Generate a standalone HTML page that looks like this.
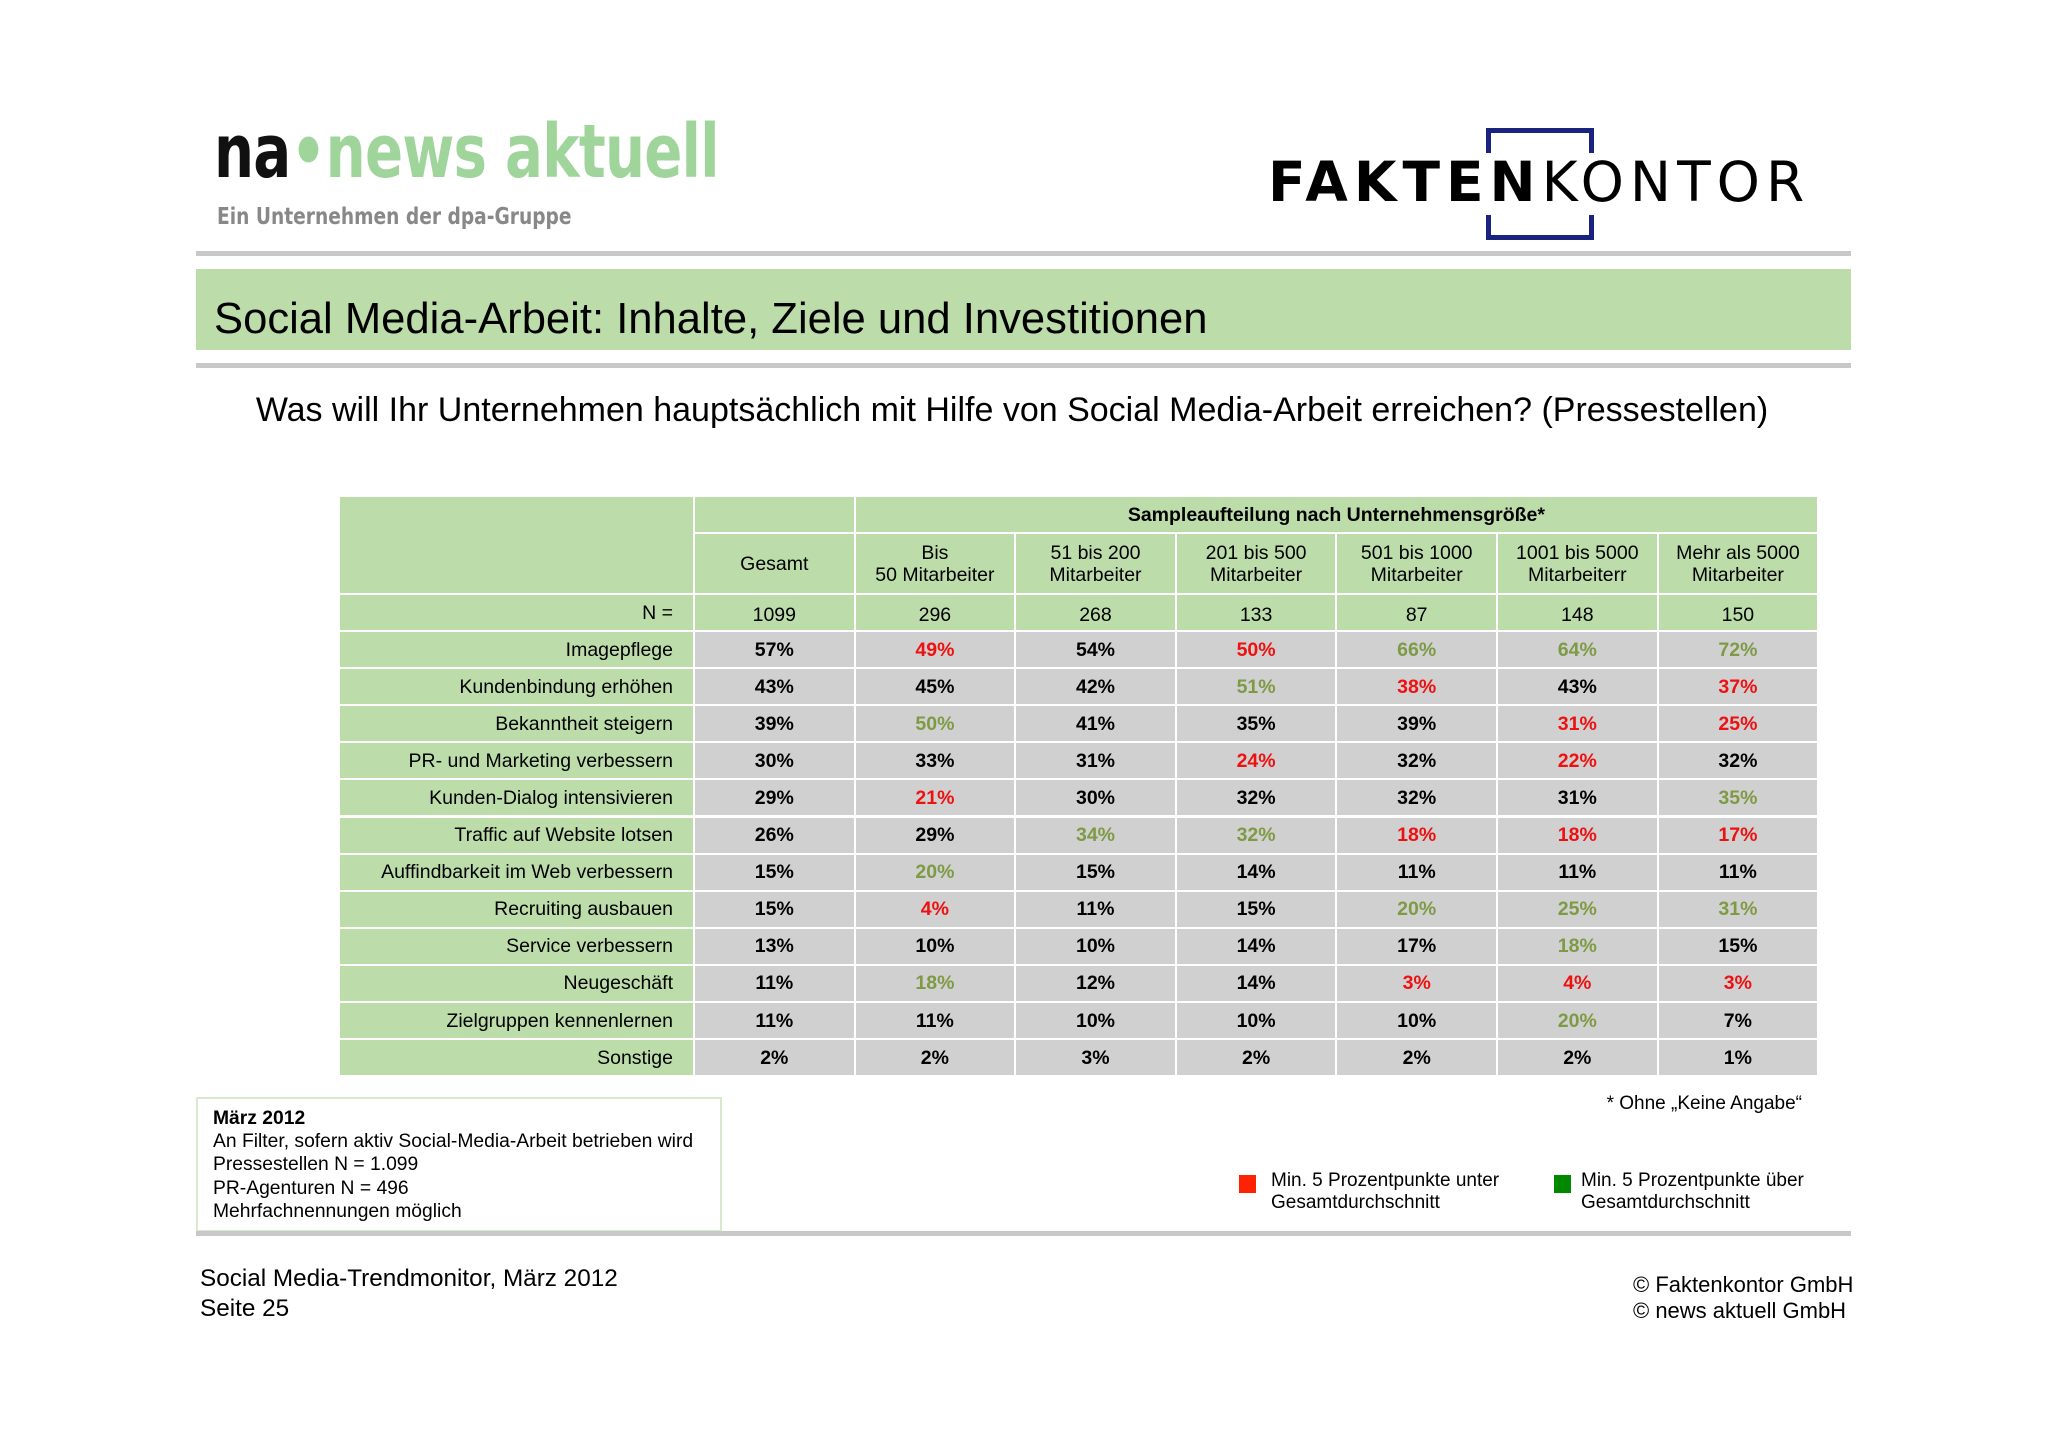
<!DOCTYPE html>
<html><head><meta charset="utf-8">
<style>
body{margin:0;width:2048px;height:1447px;background:#fff;position:relative;overflow:hidden;font-family:"Liberation Sans",Arial,sans-serif;color:#000}
.a{position:absolute;white-space:nowrap}
.cell{position:absolute;box-sizing:border-box;border-right:2px solid #fff;border-bottom:2px solid #fff;display:flex;align-items:center;justify-content:center;font-size:19.5px;text-align:center;line-height:22px}
</style></head><body>
<div class="a" style="left:214px;top:112px;font-family:'DejaVu Sans',sans-serif;font-weight:bold;font-size:74px;letter-spacing:-1px;line-height:80px;transform:scaleX(0.76);transform-origin:0 0"><span style="color:#111">na</span><span style="color:#9fd49a">•news aktuell</span></div>
<div class="a" style="left:217px;top:204px;font-family:'DejaVu Sans Condensed','DejaVu Sans',sans-serif;font-weight:bold;font-size:23px;color:#888;transform:scaleX(0.9);transform-origin:0 0">Ein Unternehmen der dpa-Gruppe</div>
<div class="a" style="left:1268px;top:152px;font-family:'DejaVu Sans',sans-serif;font-size:55px;line-height:60px;letter-spacing:6px"><b style="font-weight:900">FAKTEN</b><span style="font-weight:normal">KONTOR</span></div>
<div class="a" style="left:1486px;top:128px;width:98px;height:20px;border:5px solid #1a237e;border-bottom:none"></div>
<div class="a" style="left:1486px;top:215px;width:98px;height:20px;border:5px solid #1a237e;border-top:none"></div>
<div class="a" style="left:196px;top:251px;width:1655px;height:5px;background:#c8c8c8"></div>
<div class="a" style="left:196px;top:269px;width:1655px;height:81px;background:#bcdcaa"></div>
<div class="a" style="left:214px;top:294px;font-size:43.6px;line-height:50px">Social Media-Arbeit: Inhalte, Ziele und Investitionen</div>
<div class="a" style="left:196px;top:363px;width:1655px;height:5px;background:#c8c8c8"></div>
<div class="a" style="left:0;width:2024px;text-align:center;top:390px;font-size:34px;line-height:40px">Was will Ihr Unternehmen hauptsächlich mit Hilfe von Social Media-Arbeit erreichen? (Pressestellen)</div>
<div id="tbl"></div>
<div class="a" style="left:196px;top:1097px;width:526px;height:135px;border:2px solid #d7ead0;box-sizing:border-box"></div>
<div class="a" style="left:213px;top:1107px;font-size:19.3px;line-height:23.2px">
<b>März 2012</b><br>An Filter, sofern aktiv Social-Media-Arbeit betrieben wird<br>Pressestellen N = 1.099<br>PR-Agenturen N = 496<br>Mehrfachnennungen möglich</div>
<div class="a" style="right:246px;top:1093px;font-size:19px">* Ohne „Keine Angabe“</div>
<div class="a" style="left:1239px;top:1175px;width:17px;height:18px;background:#ff2200"></div>
<div class="a" style="left:1271px;top:1170px;font-size:19px;line-height:22px">Min. 5 Prozentpunkte unter<br>Gesamtdurchschnitt</div>
<div class="a" style="left:1554px;top:1175px;width:17px;height:18px;background:#008800"></div>
<div class="a" style="left:1581px;top:1170px;font-size:19px;line-height:22px">Min. 5 Prozentpunkte über<br>Gesamtdurchschnitt</div>
<div class="a" style="left:196px;top:1231px;width:1655px;height:5px;background:#c8c8c8"></div>
<div class="a" style="left:200px;top:1264px;font-size:24.3px;line-height:30px">Social Media-Trendmonitor, März 2012<br>Seite 25</div>
<div class="a" style="left:1633px;top:1272px;font-size:22px;line-height:26px">© Faktenkontor GmbH<br>© news aktuell GmbH</div>
<script>
const columns=["Gesamt","Bis<br>50 Mitarbeiter","51 bis 200<br>Mitarbeiter","201 bis 500<br>Mitarbeiter","501 bis 1000<br>Mitarbeiter","1001 bis 5000<br>Mitarbeiterr","Mehr als 5000<br>Mitarbeiter"];
const nValues=[1099,296,268,133,87,148,150];
const rowLabels=["Imagepflege","Kundenbindung erhöhen","Bekanntheit steigern","PR- und Marketing verbessern","Kunden-Dialog intensivieren","Traffic auf Website lotsen","Auffindbarkeit im Web verbessern","Recruiting ausbauen","Service verbessern","Neugeschäft","Zielgruppen kennenlernen","Sonstige"];
const values=[
[57,49,54,50,66,64,72],
[43,45,42,51,38,43,37],
[39,50,41,35,39,31,25],
[30,33,31,24,32,22,32],
[29,21,30,32,32,31,35],
[26,29,34,32,18,18,17],
[15,20,15,14,11,11,11],
[15,4,11,15,20,25,31],
[13,10,10,14,17,18,15],
[11,18,12,14,3,4,3],
[11,11,10,10,10,20,7],
[2,2,3,2,2,2,1]];
const T=document.getElementById('tbl');
const X0=340,LW=355,CW=160.6,Y0=497,H1=37,H2=61,HN=37,RH=37.1;
function cell(x,y,w,h,html,bg,st,name){const d=document.createElement('div');d.className='cell';


d.style.cssText=`left:${x}px;top:${y}px;width:${w}px;height:${h}px;background:${bg};${st||''}`;d.innerHTML=html;T.appendChild(d);}
const G='#bcdcaa',GR='#d0d0d0';
cell(X0,Y0,LW,H1+H2,'',G,'','header-corner');
cell(X0+LW,Y0,CW,H1,'',G,'','header-blank');
cell(X0+LW+CW,Y0,CW*6,H1,'<b>Sampleaufteilung nach Unternehmensgröße*</b>',G,'','group-header');
columns.forEach((c,i)=>cell(X0+LW+CW*i,Y0+H1,CW,H2,c,G,'','column-header'));
const yN=Y0+H1+H2;
cell(X0,yN,LW,HN,'N =',G,'justify-content:flex-end;padding-right:20px','n-label');
nValues.forEach((v,i)=>cell(X0+LW+CW*i,yN,CW,HN,v,G,'padding-top:4px','n-value'));
rowLabels.forEach((lab,r)=>{const y=yN+HN+RH*r;
cell(X0,y,LW,RH,lab,G,'justify-content:flex-end;padding-right:20px','row-label');
values[r].forEach((v,i)=>{let col='#000';if(i>0){if(v<=values[r][0]-5)col='#ee1111';else if(v>=values[r][0]+5)col='#7f9a45';}
cell(X0+LW+CW*i,y,CW,RH,'<b>'+v+'%</b>',GR,'color:'+col,'value-cell');});});
</script>
</body></html>
